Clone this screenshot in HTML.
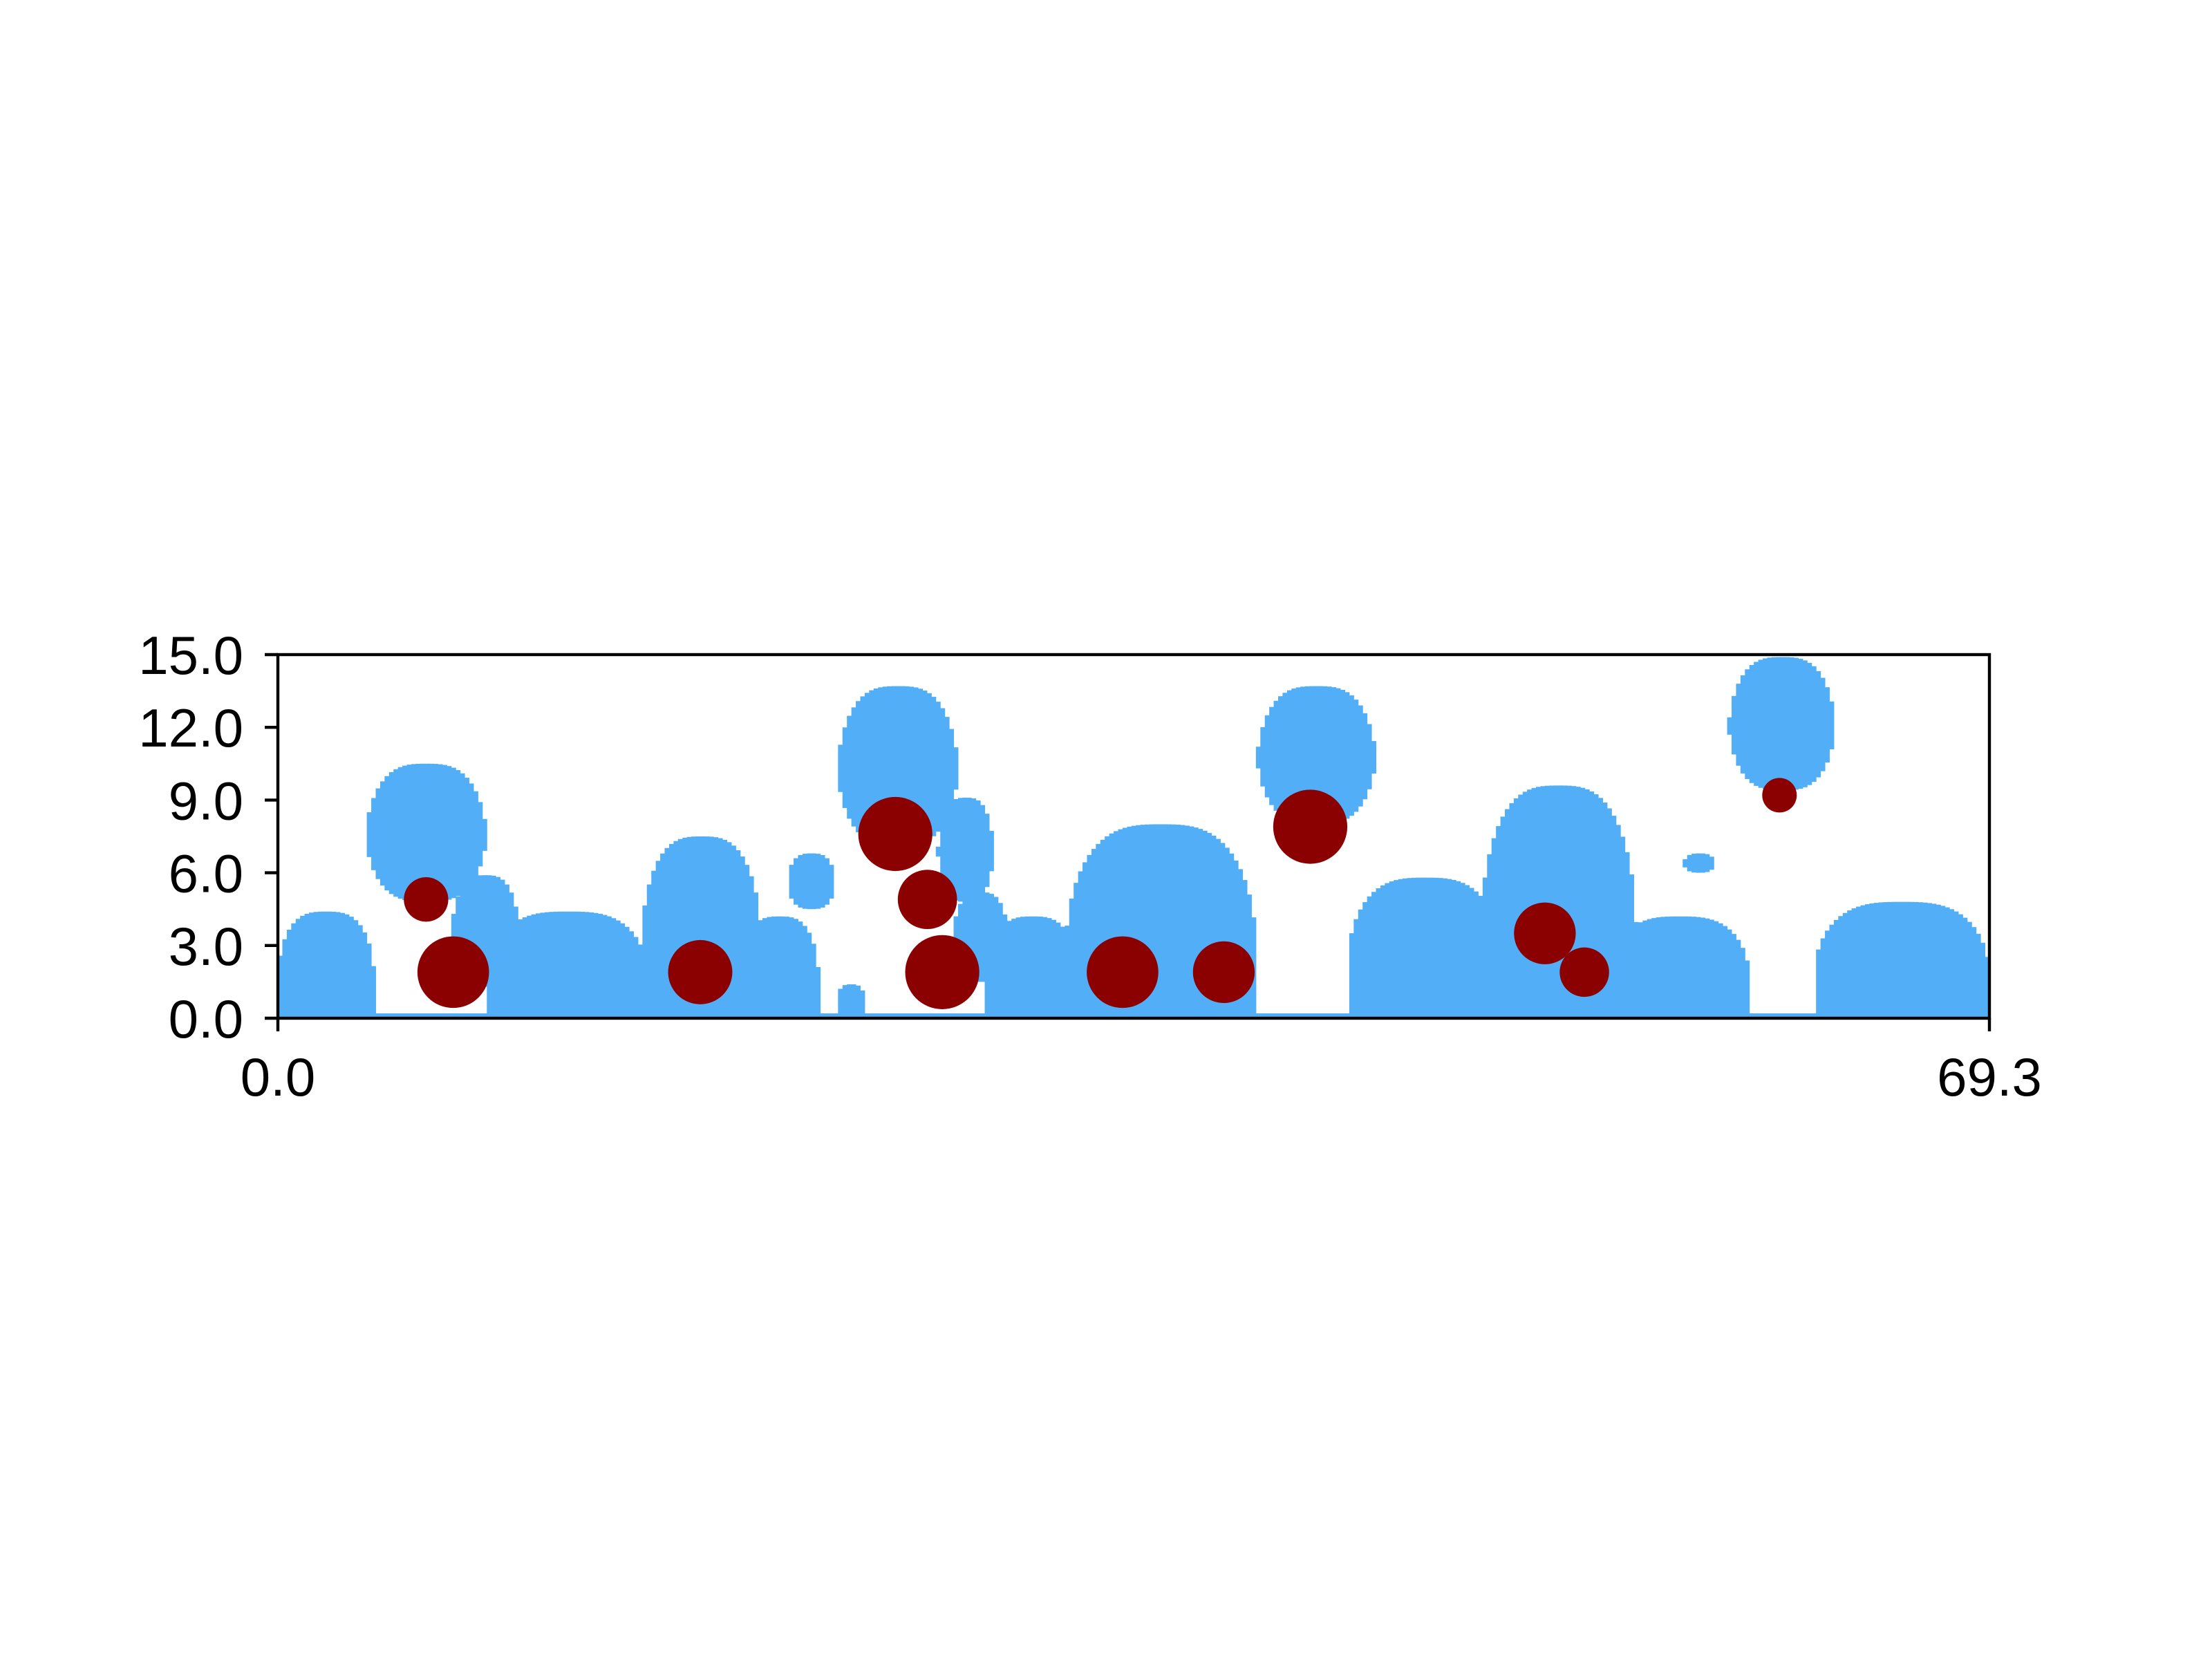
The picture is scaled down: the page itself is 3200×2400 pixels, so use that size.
<!DOCTYPE html>
<html><head><meta charset="utf-8"><style>
html,body{margin:0;padding:0;background:#fff;}
svg{display:block;}
text{font-family:"Liberation Sans","DejaVu Sans",sans-serif;}
</style></head><body>
<svg id="chart" width="3200" height="2400" viewBox="0 0 3200 2400" xmlns="http://www.w3.org/2000/svg">
<rect width="3200" height="2400" fill="#fff"/>
<g id="cells"></g>
<g id="discs"></g>
<g id="axes"></g>
</svg>
<script>
// blue regions: [x0, x1, y0, y1] in data units
const blobX0 = [0, 3.5, 7.0, 8.5, 14.7, 18.7, 20.6, 22.6, 22.6, 26.7, 27.3, 28.7, 31.9, 39.6, 43.3, 48.7, 53.9, 56.9, 58.7, 62.2];
const blobX1 = [3.9, 8.5, 9.8, 15.0, 19.6, 21.9, 22.6, 23.8, 27.6, 29.0, 29.6, 32.4, 39.6, 44.5, 49.6, 55.0, 59.6, 58.2, 63.1, 69.3];
const blobY0 = [0, 4.8, 1.3, 0, 0, 0, 4.5, 0, 7.1, 4.8, 1.5, 0, 0, 8.0, 0, 0, 0, 6.0, 9.4, 0];
const blobY1 = [4.4, 10.5, 5.9, 4.4, 7.5, 4.2, 6.8, 1.4, 13.7, 9.1, 5.2, 4.2, 8.0, 13.7, 5.8, 9.6, 4.2, 6.8, 14.9, 4.8];
// red discs
const discX = [6.0, 7.1, 17.1, 25.0, 26.3, 26.9, 34.2, 38.3, 41.8, 51.3, 52.9, 60.8];
const discY = [4.9, 1.9, 1.9, 7.6, 4.9, 1.9, 1.9, 1.9, 7.9, 3.5, 1.9, 9.2];
const discR = [0.9, 1.45, 1.3, 1.5, 1.2, 1.5, 1.45, 1.25, 1.5, 1.25, 1.0, 0.7];
const yTicks = [0, 3, 6, 9, 12, 15];
const yTickLabels = ["0.0", "3.0", "6.0", "9.0", "12.0", "15.0"];
const xTicks = [0, 69.3];
const xTickLabels = ["0.0", "69.3"];

const L = 402, R = 2878, T = 947, B = 1473;
const XMAX = 69.3, YMAX = 15;
const sx = v => L + v / XMAX * (R - L);
const sy = v => B - v / YMAX * (B - T);
const NS = "http://www.w3.org/2000/svg";
const cellsG = document.getElementById('cells');
const CW = 0.18;
const blue = '#52aff7';

const strip = document.createElementNS(NS, 'rect');


strip.setAttribute('x', sx(0)); strip.setAttribute('y', sy(0.2));
strip.setAttribute('width', sx(XMAX) - sx(0)); strip.setAttribute('height', sy(0) - sy(0.2));
strip.setAttribute('fill', blue);
cellsG.appendChild(strip);

for (let i = 0; i < blobX0.length; i++) {
  const x0 = blobX0[i], x1 = blobX1[i], y0 = blobY0[i], y1 = blobY1[i];
  const cx = (x0 + x1) / 2, hw = (x1 - x0) / 2;
  for (let x = Math.floor(x0 / CW) * CW; x < x1; x += CW) {
    const u = Math.abs(x + CW / 2 - cx) / hw;
    if (u > 1) continue;
    const f = Math.pow(1 - Math.pow(u, 3), 0.5);
    const top = y0 + (y1 - y0) * (0.35 + 0.65 * f);
    const bot = y0 > 0 ? y1 - (y1 - y0) * (0.4 + 0.6 * f) : 0;
    if (top <= bot) continue;
    const r = document.createElementNS(NS, 'rect');
    
    
    r.setAttribute('x', sx(x)); r.setAttribute('y', sy(top));
    r.setAttribute('width', sx(x + CW) - sx(x) + 0.5);
    r.setAttribute('height', sy(bot) - sy(top));
    r.setAttribute('fill', blue);
    cellsG.appendChild(r);
  }
}
const discG = document.getElementById('discs');
for (let i = 0; i < discX.length; i++) {
  const c = document.createElementNS(NS, 'circle');
  
  
  c.setAttribute('cx', sx(discX[i])); c.setAttribute('cy', sy(discY[i]));
  c.setAttribute('r', discR[i] * (R - L) / XMAX);
  c.setAttribute('fill', '#8b0000');
  discG.appendChild(c);
}
const ax = document.getElementById('axes');
const frame = document.createElementNS(NS, 'rect');


frame.setAttribute('x', L); frame.setAttribute('y', T);
frame.setAttribute('width', R - L); frame.setAttribute('height', B - T);
frame.setAttribute('fill', 'none'); frame.setAttribute('stroke', '#000'); frame.setAttribute('stroke-width', 4.4);
ax.appendChild(frame);
yTicks.forEach((v, i) => {
  const ln = document.createElementNS(NS, 'line');
  
  
  ln.setAttribute('x1', L - 19); ln.setAttribute('x2', L);
  ln.setAttribute('y1', sy(v)); ln.setAttribute('y2', sy(v));
  ln.setAttribute('stroke', '#000'); ln.setAttribute('stroke-width', 4.4);
  ax.appendChild(ln);
  const t = document.createElementNS(NS, 'text');
  
  
  t.setAttribute('x', L - 50); t.setAttribute('y', sy(v) + 28);
  t.setAttribute('text-anchor', 'end'); t.setAttribute('font-size', 78);
  t.textContent = yTickLabels[i];
  ax.appendChild(t);
});
xTicks.forEach((v, i) => {
  const ln = document.createElementNS(NS, 'line');
  
  
  ln.setAttribute('x1', sx(v)); ln.setAttribute('x2', sx(v));
  ln.setAttribute('y1', B); ln.setAttribute('y2', B + 19);
  ln.setAttribute('stroke', '#000'); ln.setAttribute('stroke-width', 4.4);
  ax.appendChild(ln);
  const t = document.createElementNS(NS, 'text');
  
  
  t.setAttribute('x', sx(v)); t.setAttribute('y', B + 112);
  t.setAttribute('text-anchor', 'middle'); t.setAttribute('font-size', 78);
  t.textContent = xTickLabels[i];
  ax.appendChild(t);
});
</script>
</body></html>
